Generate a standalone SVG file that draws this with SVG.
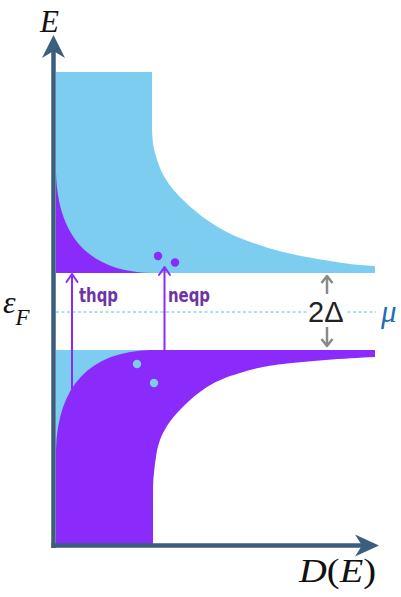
<svg xmlns="http://www.w3.org/2000/svg" width="401" height="597" viewBox="0 0 401 597">
<style>
.blue{fill:#7CCDEF}
.purple{fill:#8B2BFB}
.axis{stroke:#3A5E7C;stroke-width:4.5;fill:none}
.axhead{fill:#3A5E7C}
.math{font-family:"Liberation Serif","DejaVu Serif",serif;font-style:italic;fill:#111}
.lbl{font-family:"DejaVu Sans",Roboto,sans-serif;font-stretch:condensed;font-weight:bold;font-size:20px;fill:#6E34A6}
.parr{stroke:#8B2BFB;stroke-width:2;fill:none;stroke-linecap:round;stroke-linejoin:round}
.garr{stroke:#8A8A8A;stroke-width:2.5;fill:none;stroke-linejoin:round}
</style>
<g id="bands">
<path class="blue" d="M56,72 L152,72 L152,130 C152.5,138.8 152.8,145 155,153 C157.2,161 160.3,170.2 165,178 C169.7,185.8 175.5,192.7 183,200 C190.5,207.3 200.5,215.7 210,222 C219.5,228.3 227.8,233 240,238 C252.2,243 268,248.2 283,252 C298,255.8 314.7,258.7 330,261 C345.3,263.3 351.7,264.8 375,266 L375,273 L56,273 Z"/>
<path class="purple" d="M56,173 C58,238 90,271 150,273 L56,273 Z"/>
<rect class="blue" x="56" y="350" width="100" height="110"/>
<path class="purple" d="M56,450 C58,385 90,352 150,350 L375,350 L375,357 C343.8,358.3 305.5,361.3 283,364 C260.5,366.7 252.7,369.2 240,373 C227.3,376.8 217.5,380.3 207,387 C196.5,393.7 184.8,404.2 177,413 C169.2,421.8 163.8,430 160,440 C156.2,450 155.2,463 154,473 C152.8,483 153.2,488.8 153,500 L153,546 L56,546 Z"/>
</g>
<g id="dots">
<circle cx="158" cy="256" r="4.2" fill="#8B2BFB"/>
<circle cx="175" cy="262.5" r="4.2" fill="#8B2BFB"/>
<circle cx="137" cy="364" r="4.2" fill="#7CCDEF"/>
<circle cx="154" cy="383" r="4.2" fill="#7CCDEF"/>
</g>
<g id="fermi">
<line x1="56" y1="312" x2="376" y2="312" stroke="#5FBCE0" stroke-width="1" stroke-dasharray="3 2.5"/>
</g>
<g id="connectors">
<path class="parr" d="M72,400 L72,274 M66.5,282 L72,274 L77.5,282"/>
<path class="parr" d="M164.5,350 L164.5,267 M159,275 L164.5,267 L170,275"/>
<path class="garr" d="M327,294 L327,276 M321.5,283 L327,276 L332.5,283"/>
<path class="garr" d="M327,327 L327,346 M321.5,339 L327,346 L332.5,339"/>
</g>
<g id="labels">
<text class="lbl" x="79" y="302" textLength="39" lengthAdjust="spacingAndGlyphs">thqp</text>
<text class="lbl" x="168" y="302" textLength="42" lengthAdjust="spacingAndGlyphs">neqp</text>
<rect x="308" y="300" width="38" height="24" fill="#fff"/>
<text x="308" y="322" font-family="Liberation Sans,Arial,sans-serif" font-size="29" fill="#222">2Δ</text>
<text x="381" y="322" font-family="Liberation Serif,DejaVu Serif,serif" font-style="italic" font-size="31" fill="#1F6EB4">μ</text>
</g>
<g id="axes">
<line class="axis" x1="53.5" y1="548" x2="53.5" y2="50"/>
<path class="axhead" d="M53.5,35 L65,58 L53.5,51 L42,58 Z"/>
<line class="axis" x1="51.5" y1="545.5" x2="365" y2="545.5"/>
<path class="axhead" d="M379,545.5 L355,534.5 L362,545.5 L355,556.5 Z"/>
<text class="math" x="40" y="32" font-size="31">E</text>
<text class="math" x="3" y="313" font-size="32">ε<tspan font-size="23" dy="12">F</tspan></text>
<text class="math" x="299" y="582" font-size="33" textLength="77" lengthAdjust="spacingAndGlyphs">D<tspan font-style="normal">(</tspan>E<tspan font-style="normal">)</tspan></text>
</g>
</svg>
